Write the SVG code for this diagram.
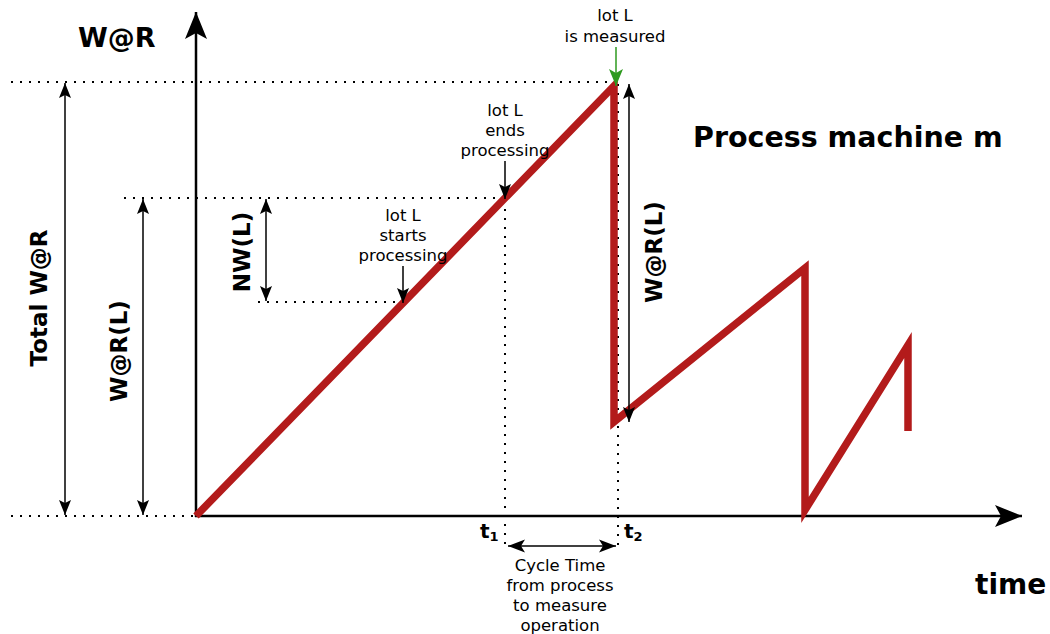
<svg xmlns="http://www.w3.org/2000/svg" width="1050" height="634" viewBox="0 0 1050 634">
<style>
.dot{stroke:#000;stroke-width:2;stroke-dasharray:2 7;fill:none}
.thin{stroke:#000;stroke-width:1.5;fill:none}
.axis{stroke:#000;stroke-width:2.5;fill:none}
.red{stroke:#b31b1b;stroke-width:7.5;fill:none;stroke-linejoin:miter;stroke-miterlimit:10;stroke-linecap:butt}
.lbl{font-family:"DejaVu Sans","Verdana",sans-serif;font-size:16.5px;fill:#000;text-anchor:middle}
.big{font-family:"DejaVu Sans","Verdana",sans-serif;font-weight:bold;fill:#000}
</style>
<defs>
<marker id="ah" markerUnits="userSpaceOnUse" viewBox="-17 -8 18 16" refX="0" refY="0" markerWidth="18" markerHeight="16" orient="auto-start-reverse">
<path d="M0,0 L-15,-6 L-12,0 L-15,6 Z" fill="#000"/>
</marker>
<marker id="ahc" markerUnits="userSpaceOnUse" viewBox="-19 -8 20 16" refX="0" refY="0" markerWidth="20" markerHeight="16" orient="auto-start-reverse">
<path d="M0,0 L-17,-6.5 L-13,0 L-17,6.5 Z" fill="#000"/>
</marker>
<marker id="ahg" markerUnits="userSpaceOnUse" viewBox="-18 -8 19 16" refX="0" refY="0" markerWidth="19" markerHeight="16" orient="auto">
<path d="M0,0 L-17,-7 L-13,0 L-17,7 Z" fill="#2e9a1f"/>
</marker>
<marker id="ahb" markerUnits="userSpaceOnUse" viewBox="-29 -12 30 24" refX="0" refY="0" markerWidth="30" markerHeight="24" orient="auto">
<path d="M0,0 L-27,-11 L-21,0 L-27,11 Z" fill="#000"/>
</marker>
</defs>

<g id="guides">
<line class="dot" x1="11" y1="82" x2="614" y2="82"/>
<line class="dot" x1="124" y1="198" x2="505" y2="198"/>
<line class="dot" x1="258" y1="302" x2="402" y2="302"/>
<line class="dot" x1="11" y1="516" x2="196" y2="516"/>
<line class="dot" x1="505" y1="200" x2="505" y2="550"/>
<line class="dot" x1="618" y1="84" x2="618" y2="550"/>
</g>

<g id="axes">
<line class="axis" x1="196" y1="517" x2="196" y2="12" marker-end="url(#ahb)"/>
<line class="axis" x1="195" y1="516" x2="1022" y2="516" marker-end="url(#ahb)"/>
</g>

<g id="curve">
<polyline class="red" points="196,516 614,86 614,422 805,268 805,510 908,345 908,431"/>
</g>

<g id="connectors">
<line class="thin" x1="65" y1="83" x2="65" y2="515" marker-start="url(#ah)" marker-end="url(#ah)"/>
<line class="thin" x1="143" y1="199" x2="143" y2="515" marker-start="url(#ah)" marker-end="url(#ah)"/>
<line class="thin" x1="266" y1="199" x2="266" y2="301" marker-start="url(#ah)" marker-end="url(#ah)"/>
<line class="thin" x1="629" y1="84" x2="629" y2="422" marker-start="url(#ah)" marker-end="url(#ah)"/>
<line class="thin" x1="403" y1="266" x2="403" y2="303" marker-end="url(#ah)"/>
<line class="thin" x1="505" y1="161" x2="505" y2="199" marker-end="url(#ah)"/>
<line x1="616" y1="47" x2="616" y2="86" stroke="#2e9a1f" stroke-width="1.5" marker-end="url(#ahg)"/>
<line class="thin" x1="508" y1="546" x2="616" y2="546" marker-start="url(#ahc)" marker-end="url(#ahc)"/>
</g>

<g id="labels">
<text class="big" x="78" y="47" font-size="27">W@R</text>
<text class="big" x="693" y="147" font-size="28.5">Process machine m</text>
<text class="big" x="975" y="594" font-size="28">time</text>
<text class="big" font-size="23" text-anchor="middle" transform="translate(47,298) rotate(-90)">Total W@R</text>
<text class="big" font-size="23" text-anchor="middle" transform="translate(127,351) rotate(-90)">W@R(L)</text>
<text class="big" font-size="23" text-anchor="middle" transform="translate(250,252) rotate(-90)">NW(L)</text>
<text class="big" font-size="23" text-anchor="middle" transform="translate(662,252) rotate(-90)">W@R(L)</text>
<text class="big" x="480" y="538" font-size="20">t<tspan font-size="13" dy="3">1</tspan></text>
<text class="big" x="624" y="538" font-size="20">t<tspan font-size="13" dy="3">2</tspan></text>
<text class="lbl" x="615" y="21">lot L</text>
<text class="lbl" x="615" y="42">is measured</text>
<text class="lbl" x="505" y="116">lot L</text>
<text class="lbl" x="505" y="136">ends</text>
<text class="lbl" x="505" y="156">processing</text>
<text class="lbl" x="403" y="221">lot L</text>
<text class="lbl" x="403" y="241">starts</text>
<text class="lbl" x="403" y="261">processing</text>
<text class="lbl" x="560" y="571">Cycle Time</text>
<text class="lbl" x="560" y="591">from process</text>
<text class="lbl" x="560" y="611">to measure</text>
<text class="lbl" x="560" y="631">operation</text>
</g>
</svg>
